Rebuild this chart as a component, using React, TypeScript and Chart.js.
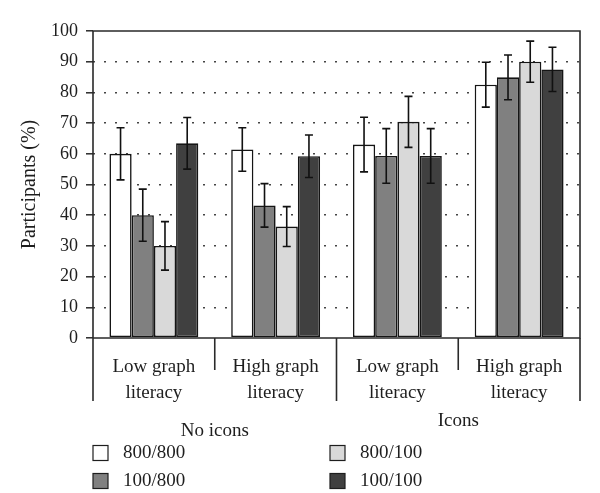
import React, { useEffect, useRef } from "react";
import { Chart, registerables } from "chart.js";

Chart.register(...registerables);

// ---- data ----
const categories: string[][] = [
  ["Low graph", "literacy"],
  ["High graph", "literacy"],
  ["Low graph", "literacy"],
  ["High graph", "literacy"],
];
const groupLabels = ["No icons", "Icons"];
const seriesNames = ["800/800", "100/800", "800/100", "100/100"];
const values800_800 = [60, 61.4, 63, 82.5];
const values100_800 = [40, 43.2, 59.3, 84.9];
const values800_100 = [30, 36.3, 70.4, 90];
const values100_100 = [63.4, 59.2, 59.3, 87.5];
const errors800_800 = [8.5, 7.1, 8.9, 7.3];
const errors100_800 = [8.5, 7.1, 8.9, 7.3];
const errors800_100 = [7.9, 6.5, 8.3, 6.7];
const errors100_100 = [8.4, 6.9, 8.9, 7.2];
const yMin = 0;
const yMax = 100;
const yStep = 10;
const yTitle = "Participants (%)";

const seriesValues = [values800_800, values100_800, values800_100, values100_100];
const seriesErrors = [errors800_800, errors100_800, errors800_100, errors100_100];
const seriesColors = ["#ffffff", "#808080", "#d9d9d9", "#404040"];

const FONT = "'Liberation Serif', 'Times New Roman', serif";
const INK = "#1e1e1e";
const LINE = "#2a2a2a";

const errorBarPlugin = {
  id: "errorBars",
  afterDatasetsDraw(chart: any) {
    const ctx = chart.ctx;
    const y = chart.scales.y;
    ctx.save();
    ctx.strokeStyle = "#111";
    ctx.lineWidth = 1.6;
    chart.data.datasets.forEach((ds: any, di: number) => {
      const meta = chart.getDatasetMeta(di);
      meta.data.forEach((bar: any, i: number) => {
        const v = ds.data[i];
        const e = ds.errors[i];
        const top = y.getPixelForValue(v + e);
        const bot = y.getPixelForValue(v - e);
        const x = bar.x;
        const cap = 4;
        ctx.beginPath();
        ctx.moveTo(x, top);
        ctx.lineTo(x, bot);
        ctx.moveTo(x - cap, top);
        ctx.lineTo(x + cap, top);
        ctx.moveTo(x - cap, bot);
        ctx.lineTo(x + cap, bot);
        ctx.stroke();
      });
    });
    ctx.restore();
  },
};

const decorPlugin = {
  id: "decor",
  afterDraw(chart: any) {
    const ctx = chart.ctx;
    const { left, right, top, bottom } = chart.chartArea;
    const xs = chart.scales.x;
    const n = categories.length;
    ctx.save();
    ctx.strokeStyle = LINE;
    ctx.lineWidth = 1.6;
    // frame
    ctx.beginPath();
    ctx.moveTo(left, bottom);
    ctx.lineTo(left, top);
    ctx.lineTo(right, top);
    ctx.lineTo(right, bottom);
    ctx.lineTo(left, bottom);
    ctx.stroke();
    // category dividers
    const bounds: number[] = [];
    for (let i = 0; i <= n; i++) {
      let bx: number;
      if (i === 0) bx = left;
      else if (i === n) bx = right;
      else bx = (xs.getPixelForValue(i - 1) + xs.getPixelForValue(i)) / 2;
      bounds.push(bx);
      const len = i % 2 === 0 ? 63 : 32;
      ctx.beginPath();
      ctx.moveTo(bx, bottom);
      ctx.lineTo(bx, bottom + len);
      ctx.stroke();
    }
    // group labels
    ctx.fillStyle = INK;
    ctx.font = `19px ${FONT}`;
    ctx.textAlign = "center";
    ctx.textBaseline = "middle";
    ctx.fillText(groupLabels[0], (bounds[0] + bounds[2]) / 2, bottom + 93);
    ctx.fillText(groupLabels[1], (bounds[2] + bounds[4]) / 2, bottom + 83);
    // legend
    const cols = [left, left + 237];
    const rows = [bottom + 115, bottom + 143];
    ctx.textAlign = "left";
    seriesNames.forEach((name, i) => {
      const cx = cols[Math.floor(i / 2)];
      const cy = rows[i % 2];
      const s = 15;
      ctx.fillStyle = seriesColors[i];
      ctx.fillRect(cx, cy - s / 2, s, s);
      ctx.lineWidth = 1.2;
      ctx.strokeStyle = INK;
      ctx.strokeRect(cx, cy - s / 2, s, s);
      ctx.fillStyle = INK;
      ctx.fillText(name, cx + 30, cy);
    });
    ctx.restore();
  },
};

export default function App() {
  const ref = useRef<HTMLCanvasElement | null>(null);
  useEffect(() => {
    if (!ref.current) return;
    const chart = new Chart(ref.current, {
      type: "bar",
      data: {
        labels: categories as any,
        datasets: seriesNames.map((name, i) => ({
          label: name,
          data: seriesValues[i],
          errors: seriesErrors[i],
          backgroundColor: seriesColors[i],
          borderColor: "#151515",
          borderWidth: 1.6,
          borderSkipped: false,
          categoryPercentage: 0.73,
          barPercentage: 1.0,
        })) as any,
      },
      options: {
        responsive: false,
        animation: false,
        layout: { padding: { left: 14, right: 20, top: 31, bottom: 0 } },
        plugins: {
          legend: { display: false },
          tooltip: { enabled: false },
        },
        scales: {
          x: {
            grid: { display: false },
            border: { display: false },
            ticks: {
              color: INK,
              font: { family: FONT, size: 19, lineHeight: 1.38 },
              padding: 8,
              maxRotation: 0,
              autoSkip: false,
            },
            afterFit(scale: any) {
              scale.height = 155;
            },
          },
          y: {
            min: yMin,
            max: yMax,
            ticks: {
              stepSize: yStep,
              color: INK,
              font: { family: FONT, size: 18 },
              padding: 8,
            },
            grid: {
              color: (c: any) =>
                c.tick && (c.tick.value === yMin || c.tick.value === yMax) ? "rgba(0,0,0,0)" : "#444",
              lineWidth: 1.6,
              tickColor: LINE,
              tickLength: 7,
              tickWidth: 1.5,
            },
            border: { display: false, dash: [2, 9] },
            title: {
              display: true,
              text: yTitle,
              color: INK,
              font: { family: FONT, size: 20 },
            },
            afterFit(scale: any) {
              scale.width = 79;
            },
          },
        },
      },
      plugins: [errorBarPlugin, decorPlugin],
    } as any);
    return () => chart.destroy();
  }, []);
  return (
    <div style={{ position: "fixed", left: 0, top: 0, width: 600, height: 493, background: "#fff" }}>
      <canvas ref={ref} width={600} height={493} />
    </div>
  );
}
